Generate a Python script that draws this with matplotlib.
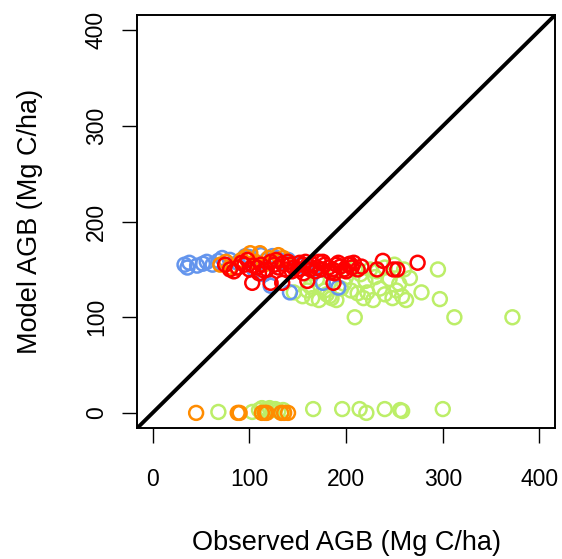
import matplotlib.pyplot as plt

plt.rcParams['font.family'] = ['Liberation Sans', 'DejaVu Sans']

# observed vs model AGB, one group per colour
green_x = [146, 155, 160, 165, 172, 180, 185, 190, 195, 205, 212, 218, 222, 228, 235, 240,
           248, 252, 258, 262, 170, 200, 215, 225, 232, 240, 250, 260, 175, 190, 210, 266,
           278, 295, 297, 209, 312, 372, 183, 198, 220, 245, 255, 163, 178, 230,
           68, 103, 110, 113, 116, 118, 121, 124, 127, 130, 135, 166, 196, 214, 221, 240,
           256, 258, 300]
green_y = [126, 122, 128, 120, 118, 124, 120, 118, 130, 128, 125, 120, 126, 118, 130, 124,
           120, 128, 122, 118, 140, 142, 145, 150, 148, 152, 155, 150, 150, 148, 152, 141,
           126, 150, 119, 100, 100, 100, 122, 135, 138, 140, 135, 132, 128, 142,
           1, 1, 3, 5, 2, 4, 5, 3, 4, 2, 3, 4, 4, 4, 0, 4,
           3, 2, 4]

blue_x = [33, 36, 38, 46, 52, 56, 62, 68, 72, 80, 88, 96, 100, 106, 112, 118, 124, 128,
          134, 140, 150, 158, 165, 122, 142, 176, 192, 105, 115]
blue_y = [155, 152, 157, 154, 156, 158, 155, 159, 162, 160, 157, 164, 163, 158, 165, 160,
          164, 162, 158, 160, 155, 152, 150, 133, 126, 136, 131, 150, 145]

orange_x = [70, 76, 80, 87, 92, 96, 101, 106, 111, 115, 120, 126, 130, 135, 140,
            45, 88, 90, 113, 116, 118, 133, 136, 140]
orange_y = [155, 158, 152, 152, 160, 163, 167, 158, 167, 155, 162, 160, 165, 162, 158,
            0, 0, 0, 0, 0, 0, 0, 0, 0]

red_x = [75, 80, 88, 95, 100, 108, 112, 118, 126, 130, 138, 142, 146, 150, 155, 158,
         163, 166, 170, 174, 178, 182, 186, 190, 194, 198, 202, 206, 212, 216,
         84, 92, 104, 115, 122, 134, 144, 152, 160, 168, 176, 184, 192, 200, 208,
         98, 110, 128, 140, 156, 172, 188, 204,
         103, 122, 134, 160, 187, 232, 238, 249, 253, 274]
red_y = [155, 150, 152, 155, 150, 152, 155, 150, 155, 152, 150, 155, 152, 150, 155, 158,
         150, 155, 152, 150, 155, 152, 150, 155, 153, 150, 155, 152, 150, 153,
         148, 157, 154, 149, 158, 156, 148, 157, 154, 148, 158, 147, 157, 148, 157,
         160, 146, 160, 158, 146, 158, 146, 156,
         136, 136, 136, 138, 136, 150, 159, 150, 150, 157]

groups = [
    (green_x, green_y, '#BCEE68'),
    (blue_x, blue_y, '#6495ED'),
    (orange_x, orange_y, '#FF8C00'),
    (red_x, red_y, '#FF0000'),
]

fig = plt.figure(figsize=(5.62, 5.59), dpi=100)
ax = fig.add_axes([0.244, 0.234, 0.7435, 0.739])

for xs, ys, col in groups:
    ax.scatter(xs, ys, s=100, facecolors='none', edgecolors=col, linewidths=1.8, zorder=2)

ax.plot([-20, 420], [-20, 420], color='black', lw=2.8, zorder=3)

ax.set_xlim(-16, 416)
ax.set_ylim(-16, 416)
ticks = [0, 100, 200, 300, 400]
ax.set_xticks(ticks)
ax.set_yticks(ticks)
ax.set_yticklabels([str(t) for t in ticks], rotation=90, va='center')
ax.tick_params(direction='out', length=11, width=1, labelsize=16.5, color='black')
ax.tick_params(axis='x', pad=18)
ax.tick_params(axis='y', pad=10)
for sp in ax.spines.values():
    sp.set_linewidth(1.4)

ax.set_xlabel('Observed AGB (Mg C/ha)', fontsize=19.5, labelpad=28)
ax.set_ylabel('Model AGB (Mg C/ha)', fontsize=19.5, labelpad=30)

fig.savefig('out.png', dpi=100)
